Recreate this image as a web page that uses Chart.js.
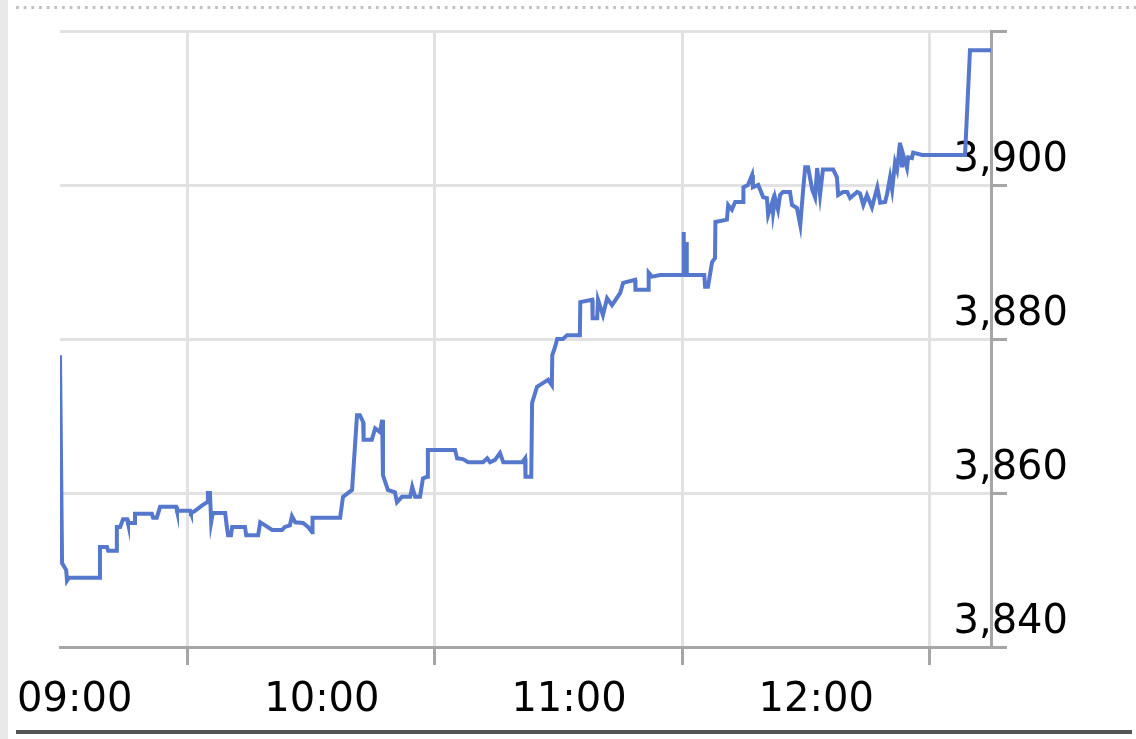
<!DOCTYPE html>
<html>
<head>
<meta charset="utf-8">
<script src="https://cdn.jsdelivr.net/npm/chart.js@4/dist/chart.umd.min.js"></script>
<style>
    html, body { margin: 0; padding: 0; background: #fff; overflow: hidden; }
    .page { position: relative; width: 1136px; height: 739px; }
    .side-strip { position: absolute; left: 0; top: 0; width: 8px; height: 739px; background: #e9e9e9; }
    .dotted-rule { position: absolute; left: 16px; right: 0; top: 6px; height: 3px;
        background-image: linear-gradient(to right, #c2c2c2 0 3px, transparent 3px);
        background-size: 7.67px 3px; }
    .bottom-rule { position: absolute; left: 16px; width: 1116px; top: 730px; height: 4px; background: #555; }
    canvas { position: absolute; left: 0; top: 0; }
</style>
</head>
<body>
<div class="page">
    <div class="side-strip"></div>
    <div class="dotted-rule"></div>
    <canvas id="intraday" width="1136" height="739"></canvas>
    <div class="bottom-rule"></div>
</div>
<script>
// minutes after 09:00 and the index level at that moment
const minutes = [
    -1.0, -0.5, 0.5, 0.7, 1.2, 8.7, 8.7, 10.4, 10.7, 12.6, 12.8, 13.6, 14.3, 15.3, 15.5, 17.0, 17.2, 21.3, 21.6, 22.5,
    23.3, 27.2, 27.4, 30.6, 30.8, 31.8, 33.5, 34.7, 34.9, 35.4, 35.7, 36.1, 39.1, 39.5, 39.8, 40.5, 40.8, 43.9, 44.2, 47.1,
    47.6, 48.8, 50.5, 52.9, 53.6, 54.8, 55.3, 56.1, 58.0, 59.2, 60.2, 60.3, 67.0, 67.7, 69.9, 71.1, 71.8, 72.6, 72.7, 74.7,
    75.5, 76.7, 77.2, 77.4, 78.6, 80.3, 80.8, 82.0, 84.0, 84.5, 85.2, 86.4, 87.1, 88.1, 88.3, 94.9, 95.4, 96.8, 98.1, 101.7,
    102.7, 103.4, 104.6, 105.8, 106.6, 111.2, 111.9, 112.0, 113.4, 113.6, 114.8, 116.3, 117.5, 118.4, 118.5, 119.2, 119.7, 121.1, 122.1, 125.2,
    125.3, 128.2, 128.3, 129.4, 129.6, 130.8, 131.8, 133.0, 135.0, 135.7, 138.6, 138.7, 141.8, 141.9, 142.7, 144.7, 150.3, 150.4, 150.5, 151.0,
    151.1, 151.2, 155.4, 155.6, 156.3, 157.3, 158.0, 158.1, 160.9, 161.2, 162.1, 162.9, 164.8, 164.9, 166.0, 167.0, 167.2, 168.5, 169.7, 170.6,
    170.9, 171.9, 172.1, 172.6, 173.3, 173.8, 174.5, 176.2, 176.7, 177.9, 178.7, 179.4, 179.9, 180.6, 181.6, 182.3, 182.8, 183.5, 184.2, 186.7,
    187.6, 187.9, 189.1, 190.1, 190.8, 192.5, 193.2, 194.0, 194.9, 196.1, 197.4, 198.1, 199.3, 199.8, 200.5, 201.0, 201.7, 202.2, 202.9, 203.4,
    203.7, 204.6, 204.9, 205.8, 206.1, 208.3, 218.7, 219.9, 225.0
]
const prices = [
    3877.9, 3850.9, 3850.0, 3848.6, 3849.0, 3849.0, 3853.0, 3853.0, 3852.5, 3852.5, 3855.6, 3855.6, 3856.6, 3856.6, 3856.1, 3856.1, 3857.3, 3857.3, 3856.8, 3856.8,
    3858.2, 3858.2, 3857.7, 3857.7, 3857.4, 3857.7, 3858.4, 3858.8, 3860.0, 3860.0, 3856.2, 3857.4, 3857.4, 3855.6, 3854.5, 3854.5, 3855.6, 3855.6, 3854.5, 3854.5,
    3856.2, 3855.8, 3855.2, 3855.2, 3855.6, 3855.8, 3857.0, 3856.2, 3856.1, 3855.6, 3854.9, 3856.8, 3856.8, 3859.5, 3860.4, 3870.1, 3870.1, 3869.2, 3866.9, 3866.9,
    3868.4, 3867.9, 3869.5, 3862.3, 3860.4, 3860.1, 3858.8, 3859.5, 3859.5, 3860.8, 3859.5, 3859.5, 3861.9, 3862.1, 3865.6, 3865.6, 3864.5, 3864.4, 3864.0, 3864.0,
    3864.5, 3864.0, 3864.3, 3865.2, 3864.0, 3864.0, 3864.5, 3862.1, 3862.1, 3871.7, 3873.8, 3874.3, 3874.7, 3874.0, 3877.9, 3879.0, 3880.0, 3880.0, 3880.5, 3880.5,
    3884.8, 3885.1, 3882.7, 3882.7, 3885.1, 3883.1, 3885.3, 3884.4, 3886.0, 3887.3, 3887.7, 3886.4, 3886.4, 3888.6, 3888.1, 3888.3, 3888.3, 3893.9, 3888.3, 3888.3,
    3892.6, 3888.3, 3888.3, 3886.8, 3886.8, 3890.0, 3890.5, 3895.2, 3895.5, 3897.4, 3896.8, 3897.8, 3897.8, 3899.7, 3900.0, 3901.3, 3899.7, 3900.0, 3898.4, 3898.3,
    3896.1, 3897.8, 3896.4, 3898.3, 3896.8, 3898.7, 3899.1, 3899.1, 3897.4, 3897.0, 3894.8, 3899.4, 3902.3, 3902.3, 3899.4, 3898.4, 3902.2, 3898.7, 3902.0, 3902.0,
    3901.0, 3898.7, 3899.1, 3899.1, 3898.3, 3899.1, 3898.9, 3897.4, 3898.7, 3897.1, 3899.7, 3897.7, 3897.8, 3898.9, 3901.0, 3899.4, 3902.9, 3902.0, 3905.5, 3902.3,
    3903.9, 3902.2, 3903.6, 3903.5, 3904.2, 3903.9, 3903.9, 3917.5, 3917.5
]

// grid sits on the half hours, the hour labels are shifted left of them
const gridMinutes = [30, 90, 150, 210]
const hourLabels = ['09:00', '10:00', '11:00', '12:00']

const yMin = 3840
const yMax = 3920
const yStep = 20

const lineColor = '#5577cc'
const gridColor = '#e2e2e2'
const axisColor = '#a6a6a6'
const labelFont = { family: 'DejaVu Sans', size: 40 }

const points = minutes.map((m, i) => ({ x: m, y: prices[i] }))

const ctx = document.getElementById('intraday').getContext('2d')

const chart = new Chart(ctx, {
    type: 'line',
    data: {
        datasets: [{
            data: points,
            borderColor: lineColor,
            borderWidth: 4,
            pointRadius: 0,
            tension: 0,
            fill: false
        }]
    },
    options: {
        responsive: false,
        animation: false,
        devicePixelRatio: 1,
        layout: { padding: { left: 60, top: 31, right: 0, bottom: 0 } },
        plugins: { legend: { display: false }, tooltip: { enabled: false } },
        scales: {
            x: {
                type: 'linear',
                min: -1,
                max: 225,
                afterBuildTicks: (axis) => {
                    axis.ticks = gridMinutes.map(v => ({ value: v }))
                },
                afterFit: (axis) => {
                    axis.height = 92
                    axis.paddingLeft = 0
                    axis.paddingRight = 0
                },
                grid: { color: gridColor, lineWidth: 3, tickColor: axisColor, tickLength: 18 },
                border: { color: axisColor, width: 3 },
                ticks: {
                    autoSkip: false,
                    maxRotation: 0,
                    labelOffset: -113,
                    padding: 12,
                    color: '#000',
                    font: labelFont,
                    callback: (value) => hourLabels[gridMinutes.indexOf(value)]
                }
            },
            y: {
                position: 'right',
                min: yMin,
                max: yMax,
                afterFit: (axis) => {
                    // labels sit over the plot, so they must not shrink it
                    axis.width = 145
                    axis.paddingTop = 0
                    axis.paddingBottom = 0
                },
                grid: { color: gridColor, lineWidth: 3, tickColor: axisColor, tickLength: 16 },
                border: { color: axisColor, width: 3 },
                ticks: {
                    stepSize: yStep,
                    mirror: true,
                    labelOffset: -24,
                    padding: 77,
                    color: '#000',
                    font: labelFont,
                    callback: (value) => value === yMax ? '' : value.toLocaleString('en-US')
                }
            }
        }
    }
})
</script>
</body>
</html>
